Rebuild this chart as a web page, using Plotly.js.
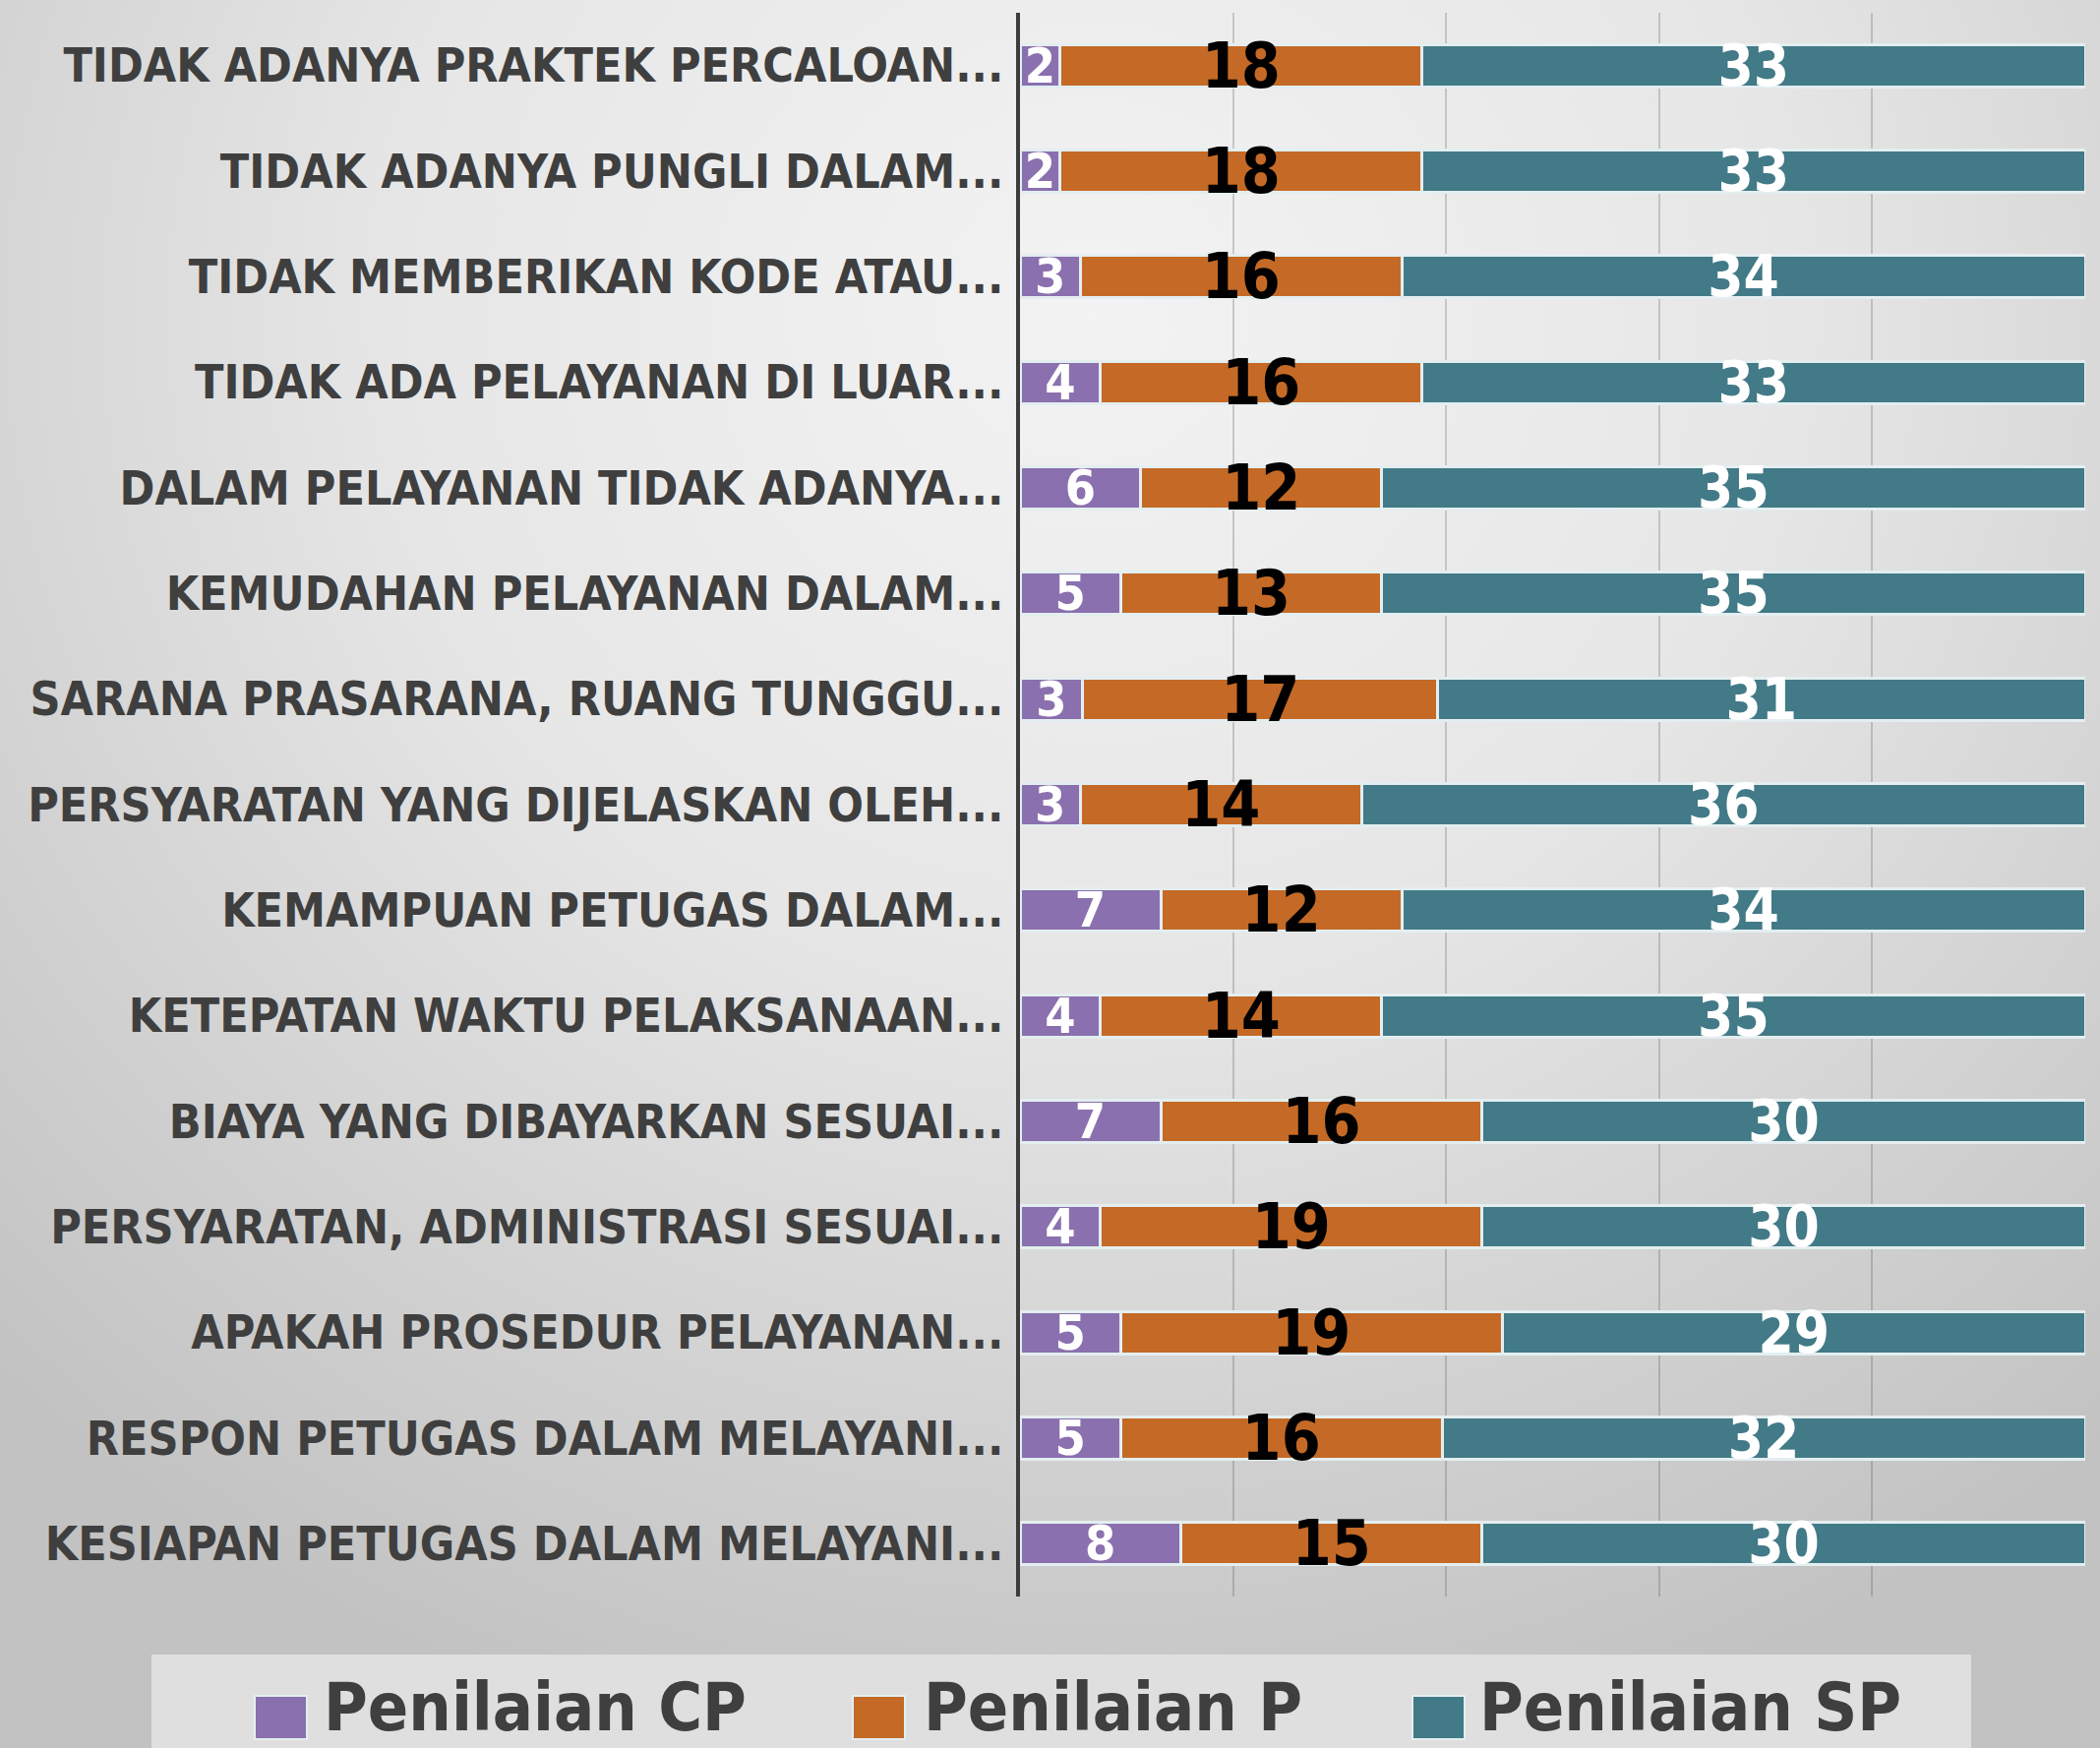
<!DOCTYPE html>
<html>
<head>
<meta charset="utf-8">
<script src="https://cdn.plot.ly/plotly-3.0.1.min.js"></script>
<style>
  html, body { margin: 0; padding: 0; }
  body {
    width: 2135px; height: 1777px; overflow: hidden;
    background: radial-gradient(ellipse 75% 85% at 52% 18%, #f3f3f3 0%, #e6e6e6 45%, #d2d2d2 75%, #c2c2c2 100%);
  }
  #chart { width: 2135px; height: 1777px; }
</style>
</head>
<body>
<div id="chart"></div>
<script>
// ---- data (top to bottom as shown) ----
var categories = [
  "TIDAK ADANYA PRAKTEK PERCALOAN...",
  "TIDAK ADANYA PUNGLI DALAM...",
  "TIDAK MEMBERIKAN KODE ATAU...",
  "TIDAK ADA PELAYANAN DI LUAR...",
  "DALAM PELAYANAN TIDAK ADANYA...",
  "KEMUDAHAN PELAYANAN DALAM...",
  "SARANA PRASARANA, RUANG TUNGGU...",
  "PERSYARATAN YANG DIJELASKAN OLEH...",
  "KEMAMPUAN PETUGAS DALAM...",
  "KETEPATAN WAKTU PELAKSANAAN...",
  "BIAYA YANG DIBAYARKAN SESUAI...",
  "PERSYARATAN, ADMINISTRASI SESUAI...",
  "APAKAH PROSEDUR PELAYANAN...",
  "RESPON PETUGAS DALAM MELAYANI...",
  "KESIAPAN PETUGAS DALAM MELAYANI..."
];
var penilaianCP = [2, 2, 3, 4, 6, 5, 3, 3, 7, 4, 7, 4, 5, 5, 8];
var penilaianP  = [18, 18, 16, 16, 12, 13, 17, 14, 12, 14, 16, 19, 19, 16, 15];
var penilaianSP = [33, 33, 34, 33, 35, 35, 31, 36, 34, 35, 30, 30, 29, 32, 30];
var seriesNames = ["Penilaian CP", "Penilaian P", "Penilaian SP"];
var seriesColors = ["#8a70ae", "#c46a26", "#427a87"];
var labelColors = ["#ffffff", "#000000", "#ffffff"];
var labelSizes = [50, 64, 58];

var FONT = '"Liberation Sans Narrow", "DejaVu Sans Condensed", "Arial Narrow", "Liberation Sans", sans-serif';

var seriesValues = [penilaianCP, penilaianP, penilaianSP];
var traces = seriesValues.map(function (vals, i) {
  return {
    type: 'bar',
    orientation: 'h',
    name: seriesNames[i],
    y: categories,
    x: vals,
    text: vals.map(String),
    texttemplate: '%{text}',
    textposition: 'inside',
    insidetextanchor: 'middle',
    constraintext: 'none',
    textangle: 0,
    cliponaxis: false,
    insidetextfont: { family: FONT, size: labelSizes[i], color: labelColors[i], weight: 'bold' },
    marker: { color: seriesColors[i], line: { color: '#e4eef0', width: 3 } },
    hoverinfo: 'skip',
    showlegend: false
  };
});

// plot area in pixels
var W = 2135, H = 1777;
var L = 1037, R = 2120, T = 13, B = 1623;
function xp(px) { return (px - L) / (R - L); }
function yp(py) { return (B - py) / (B - T); }

// manual legend (large swatches)
var shapes = [{
  type: 'rect', xref: 'paper', yref: 'paper',
  x0: xp(154), x1: xp(2004), y0: yp(1682), y1: yp(1790),
  fillcolor: '#dfdfdf', line: { width: 0 }, layer: 'below'
}];
var annotations = [];
var swatchX = [259, 867, 1436];
var textX = [327, 937, 1502];
for (var i = 0; i < 3; i++) {
  shapes.push({
    type: 'rect', xref: 'paper', yref: 'paper',
    x0: xp(swatchX[i]), x1: xp(swatchX[i] + 53), y0: yp(1768), y1: yp(1724),
    fillcolor: seriesColors[i], line: { color: '#e4eef0', width: 2 }
  });
  annotations.push({
    xref: 'paper', yref: 'paper', x: xp(textX[i]), y: yp(1735),
    xanchor: 'left', yanchor: 'middle', showarrow: false,
    text: seriesNames[i],
    font: { family: FONT, size: 68, color: '#3f3f3f', weight: 'bold' }
  });
}

var layout = {
  width: W, height: H,
  margin: { l: L, r: W - R, t: T, b: H - B, pad: 0 },
  paper_bgcolor: 'rgba(0,0,0,0)',
  plot_bgcolor: 'rgba(0,0,0,0)',
  barmode: 'stack',
  barnorm: 'percent',
  bargap: 0.6,
  showlegend: false,
  xaxis: {
    range: [0, 100], dtick: 20, tick0: 0,
    showticklabels: false, showgrid: true,
    gridcolor: 'rgba(60,60,60,0.22)', gridwidth: 2,
    zeroline: false, showline: false, ticks: '', fixedrange: true
  },
  yaxis: {
    type: 'category', autorange: 'reversed',
    showline: true, linecolor: '#3c3c3c', linewidth: 4,
    ticks: '', showgrid: false, zeroline: false,
    ticklabelstandoff: 3,
    tickfont: { family: FONT, size: 48, color: '#3f3f3f', weight: 'bold' },
    fixedrange: true
  },
  shapes: shapes,
  annotations: annotations,
  uniformtext: { mode: false }
};

Plotly.newPlot('chart', traces, layout, { displayModeBar: false, staticPlot: true });
</script>
</body>
</html>
